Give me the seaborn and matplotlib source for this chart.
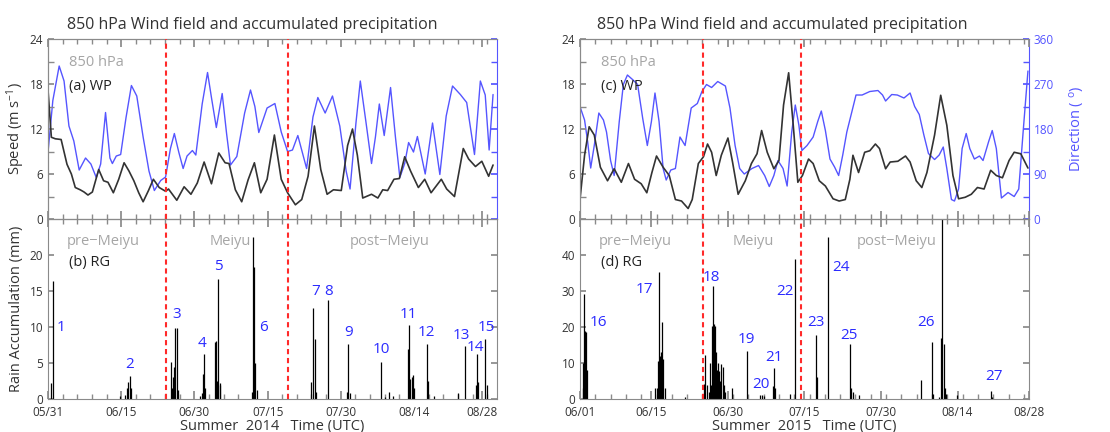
import matplotlib
matplotlib.use("Agg")
import matplotlib.pyplot as plt
import seaborn as sns
import pandas as pd
from matplotlib.ticker import MultipleLocator, FixedLocator

# ---------------- 2014 (days after 05/31 00 UTC) ----------------
wp14_day = [0.0, 0.7, 1.5, 2.7, 3.9, 4.8, 5.6, 6.6, 7.4, 8.2, 9.1, 10.4, 11.4, 12.3, 13.4, 14.5,
            15.6, 16.6, 17.6, 18.6, 19.5, 20.6, 21.6, 22.8, 24.1, 24.7, 26.4, 27.9, 29.3, 30.6,
            32.0, 33.5, 35.0, 36.3, 37.1, 38.4, 39.7, 41.0, 42.3, 43.6, 44.9, 46.4, 47.8, 49.1,
            50.7, 52.0, 53.3, 54.6, 55.9, 57.2, 58.5, 60.1, 61.4, 62.4, 63.4, 64.5, 66.3, 67.6,
            68.6, 69.6, 70.9, 72.0, 73.1, 74.3, 75.9, 77.2, 78.5, 80.6, 81.7, 83.3, 85.1, 86.2,
            87.6, 88.9, 90.3, 91.2]
wp14_speed = [17.3, 10.9, 10.7, 10.6, 7.3, 6.0, 4.2, 3.9, 3.6, 3.2, 3.6, 6.6, 5.1, 4.9, 3.5, 5.3,
              7.5, 6.4, 5.1, 3.5, 2.3, 3.8, 5.3, 4.2, 3.7, 4.0, 2.5, 4.3, 3.3, 4.8,
              7.6, 4.7, 8.8, 7.5, 7.4, 3.9, 2.3, 5.2, 7.5, 3.5, 5.3, 11.2, 5.3, 3.5,
              1.9, 2.6, 5.7, 12.4, 6.6, 3.3, 3.9, 3.8, 9.8, 12.0, 8.5, 2.8, 3.3, 2.8,
              3.9, 3.8, 5.3, 5.4, 8.3, 6.4, 4.2, 5.3, 3.5, 5.3, 4.0, 3.0, 9.4, 8.0,
              7.0, 7.7, 5.7, 7.2]
wd14_day = [0.0, 1.0, 2.3, 3.3, 4.3, 5.3, 6.4, 7.7, 8.8, 9.9, 10.8, 11.8, 12.7, 13.2, 14.0, 14.9,
            16.0, 17.1, 18.2, 19.5, 20.7, 21.8, 23.1, 24.1, 25.1, 25.9, 26.8, 27.7, 28.5, 29.6,
            30.3, 31.6, 32.7, 33.5, 34.5, 35.7, 36.6, 37.4, 38.7, 40.3, 41.5, 42.4, 43.2, 44.9,
            46.5, 47.8, 49.1, 50.1, 51.2, 53.0, 54.3, 55.3, 56.8, 58.3, 59.8, 61.1, 61.9, 63.1,
            64.0, 65.2, 66.3, 67.1, 67.9, 68.9, 70.2, 71.2, 72.1, 73.1, 73.9, 74.9, 75.7, 77.3,
            78.8, 80.3, 81.6, 82.9, 84.5, 85.8, 86.4, 87.4, 88.6, 89.6, 90.4, 91.2]
wd14_dir = [132, 237, 306, 276, 186, 156, 98, 122, 110, 83, 110, 213, 122, 111, 126, 129,
            203, 267, 246, 164, 96, 57, 77, 84, 141, 171, 134, 101, 126, 137,
            128, 230, 293, 243, 183, 251, 171, 108, 125, 212, 258, 225, 173, 222,
            231, 174, 135, 138, 167, 101, 204, 243, 212, 246, 186, 96, 60, 191,
            276, 191, 111, 164, 230, 167, 263, 164, 83, 111, 153, 134, 165, 90,
            192, 89, 206, 266, 249, 233, 194, 129, 276, 248, 138, 249]
rg14_day = [0.7, 1.0, 14.8, 15.7, 16.1, 16.4, 16.8, 17.0, 25.2, 25.5, 25.7, 25.9, 26.1, 26.4, 26.6,
            31.1, 31.5, 31.7, 31.9, 32.1, 34.3, 34.5, 34.7, 34.9, 35.2, 35.3,
            41.9, 42.1, 42.3, 42.5, 42.8, 54.0, 54.4, 54.7, 54.9, 57.3, 61.2, 61.4, 61.9,
            68.3, 69.1, 69.8, 70.8, 73.7, 73.9, 74.1, 74.5, 74.8, 75.0, 77.6, 77.8, 79.0,
            84.1, 85.4, 87.8, 87.9, 88.1, 89.6, 90.0]
rg14_mm = [2.2, 16.4, 0.4, 0.5, 1.5, 2.4, 3.2, 1.5, 5.2, 1.5, 3.0, 4.5, 9.8, 9.8, 1.2,
           0.4, 0.8, 3.5, 6.2, 1.5, 7.9, 8.0, 2.5, 16.6, 2.2, 2.0,
           1.0, 22.5, 18.4, 5.0, 1.2, 2.4, 12.7, 8.3, 1.0, 13.7, 1.0, 7.6, 0.8,
           5.2, 0.3, 1.0, 0.4, 7.0, 10.3, 2.8, 3.0, 3.3, 1.5, 7.6, 2.5, 0.4,
           0.8, 7.3, 2.0, 6.2, 2.3, 8.3, 2.0]
meiyu14 = [24.1, 49.1]
ticks14 = [0, 15, 30, 45, 60, 75, 89]
labels14 = ["05/31", "06/15", "06/30", "07/15", "07/30", "08/14", "08/28"]

# ---------------- 2015 (days after 06/01 00 UTC) ----------------
wp15_day = [0, 0.9, 1.8, 2.8, 4.0, 5.4, 6.7, 8.1, 9.5, 10.7, 12.0, 13.1, 14.1, 15.0, 16.3, 17.5,
            18.7, 19.9, 21.2, 22.0, 23.2, 24.2, 25.0, 25.8, 26.7, 27.7, 29.0, 29.9, 31.0, 32.4,
            33.6, 34.7, 35.6, 36.7, 38.0, 39.0, 39.9, 40.9, 41.8, 42.7, 43.6, 44.8, 45.7, 46.9,
            48.1, 49.6, 50.8, 52.0, 52.9, 53.5, 54.6, 55.8, 56.8, 57.9, 58.7, 59.9, 60.8, 62.3,
            63.8, 64.7, 65.9, 67.0, 68.0, 69.5, 70.7, 71.9, 73.1, 74.2, 75.5, 76.7, 77.9, 79.2,
            80.5, 81.6, 82.8, 84.1, 85.1, 86.4, 87.8]
wp15_speed = [2.6, 8.5, 12.3, 11.2, 6.9, 5.1, 6.7, 4.9, 7.4, 5.3, 4.7, 3.5, 6.2, 8.4, 6.9, 5.8,
              2.6, 2.4, 1.4, 2.6, 7.4, 8.3, 10.0, 8.9, 5.8, 8.5, 10.8, 7.6, 3.3, 5.1,
              7.4, 8.7, 11.8, 8.9, 6.7, 7.8, 15.2, 19.5, 12.5, 4.9, 5.8, 8.0, 7.4, 5.1,
              4.4, 2.7, 2.4, 2.6, 5.3, 8.5, 6.2, 8.9, 9.1, 10.0, 9.4, 6.7, 7.6, 7.7,
              8.4, 7.6, 5.1, 4.2, 6.2, 11.2, 16.5, 12.5, 5.8, 2.7, 2.9, 3.3, 4.2, 4.0,
              6.5, 5.8, 5.5, 7.8, 8.9, 8.7, 6.8]
wd15_day = [0, 0.9, 1.5, 2.1, 2.8, 3.7, 4.6, 5.2, 6.0, 6.7, 7.7, 8.5, 9.3, 10.3, 11.3, 12.3,
            13.2, 14.0, 14.7, 15.5, 16.3, 16.9, 17.8, 18.7, 19.6, 20.6, 21.8, 23.0, 23.9, 24.8,
            25.8, 27.0, 28.5, 29.4, 30.4, 31.3, 32.2, 33.7, 35.0, 36.2, 37.1, 38.0, 38.8, 39.8,
            40.6, 41.5, 42.2, 42.9, 43.5, 44.5, 45.7, 46.6, 47.3, 48.1, 49.0, 49.9, 50.7, 51.5,
            52.3, 53.3, 54.1, 55.3, 56.8, 58.4, 59.3, 59.9, 61.1, 62.2, 63.5, 64.7, 65.6, 66.5,
            67.4, 68.3, 69.5, 70.4, 71.2, 71.9, 72.8, 73.4, 74.2, 74.9, 75.7, 76.4, 77.3, 78.3,
            79.0, 80.1, 80.8, 81.6, 82.6, 83.9, 85.1, 86.0, 86.9, 87.8]
wd15_dir = [225, 198, 155, 102, 147, 212, 198, 174, 117, 87, 195, 269, 288, 279, 269, 201,
            147, 195, 252, 195, 101, 78, 98, 101, 164, 147, 222, 231, 255, 269,
            263, 275, 266, 222, 147, 101, 90, 101, 107, 87, 65, 87, 117, 101,
            66, 174, 228, 188, 137, 147, 164, 195, 216, 177, 120, 104, 87, 128,
            174, 215, 248, 248, 255, 257, 248, 236, 249, 248, 242, 252, 225, 209,
            168, 131, 119, 128, 144, 101, 39, 36, 60, 141, 171, 141, 120, 126,
            117, 155, 177, 141, 42, 53, 45, 60, 180, 296]
rg15_day = [0.5, 0.65, 0.85, 1.05, 1.2, 1.45, 14.8, 15.0, 15.2, 15.5, 15.7, 15.9, 16.0, 16.2, 16.6,
            20.6, 24.3, 24.6, 24.9, 25.2, 25.4, 25.6, 25.8, 26.0, 26.2, 26.4, 26.6, 26.8, 27.0,
            27.2, 27.5, 27.7, 28.0, 28.3, 28.5, 29.8, 32.8, 35.3, 35.7, 36.0, 37.8, 38.0, 38.2,
            41.1, 42.1, 46.3, 46.5, 48.7, 52.9, 53.2, 53.5, 54.6, 66.9, 68.9, 69.1, 70.3,
            70.7, 71.0, 71.3, 71.5, 71.8, 73.8, 80.5, 80.8]
rg15_mm = [3.0, 10.0, 29.3, 19.0, 18.5, 8.0, 3.0, 3.0, 10.5, 35.3, 12.0, 13.0, 21.5, 11.0, 3.0,
           0.5, 4.3, 12.3, 4.0, 2.0, 10.0, 4.0, 20.4, 31.3, 20.7, 20.3, 13.0, 8.0, 10.0,
           7.8, 5.0, 9.8, 9.0, 4.0, 2.0, 3.0, 13.2, 1.0, 1.2, 0.8, 3.5, 8.5, 3.0,
           1.5, 38.9, 17.8, 6.0, 45.0, 15.2, 3.0, 2.0, 1.0, 5.3, 15.9, 1.5, 0.5,
           17.0, 50.0, 15.2, 3.0, 1.5, 1.0, 2.3, 0.5]
meiyu15 = [24.2, 43.4]
ticks15 = [0, 14, 29, 44, 59, 74, 88]
labels15 = ["06/01", "06/15", "06/30", "07/15", "07/30", "08/14", "08/28"]

# rain event numbers and where their labels sit (day, mm)
ev14_num = list(range(1, 16))
ev14_pos = [(2.7, 9.9), (16.8, 4.8), (26.3, 11.7), (31.6, 7.7), (34.9, 18.4), (44.1, 9.9),
            (54.9, 14.9), (57.6, 14.9), (61.6, 9.3), (68.4, 6.9), (73.9, 11.7), (77.6, 9.3),
            (84.8, 8.8), (87.6, 7.1), (89.8, 9.9)]
ev15_num = list(range(16, 28))
ev15_pos = [(3.6, 21.2), (12.6, 30.3), (25.8, 33.8), (32.7, 16.4), (35.5, 4.1), (38.1, 11.6),
            (40.1, 29.8), (46.3, 21.2), (51.2, 36.4), (52.8, 17.7), (67.9, 21.2), (81.1, 6.3)]

BLACK = "#333333"
BLUE = "#5555ff"
TXTBLUE = "#2b2bff"
GRAY = "#a6a6a6"
RED = "#ff2a2a"
SPINE = "#8a8a8a"

sns.set_theme(style="white")
plt.rcParams["font.family"] = ["Open Sans", "DejaVu Sans"]
plt.rcParams["mathtext.fontset"] = "custom"
plt.rcParams["mathtext.rm"] = "Open Sans"
plt.rcParams["mathtext.it"] = "Open Sans"

fig = plt.figure(figsize=(11.1, 4.32), dpi=100)


def style_x(ax, xmax, ticks, labels, show_labels):
    ax.set_xlim(0, xmax)
    ax.xaxis.set_major_locator(FixedLocator(ticks))
    ax.xaxis.set_minor_locator(MultipleLocator(3))
    ax.set_xticklabels(labels if show_labels else [])
    ax.tick_params(axis="x", which="both", direction="in", top=True, bottom=True,
                   color=SPINE, labelsize=8.5, labelcolor="#333333", pad=5)
    ax.tick_params(axis="x", which="major", length=6)
    ax.tick_params(axis="x", which="minor", length=3.5)


def draw_year(x0, wp_day, wp_speed, wd_day, wd_dir, rg_day, rg_mm, meiyu, xmax, ticks,
              labels, rmax, rticks, letters, ev_num, ev_pos, sections, year, first, title_x):
    ax_t = fig.add_axes([x0, 0.493, 0.4045, 0.4167])
    ax_b = fig.add_axes([x0, 0.0764, 0.4045, 0.4167])
    ax_d = ax_t.twinx()

    # wind speed (black) and direction (blue)
    sns.lineplot(x=wd_day, y=wd_dir, ax=ax_d, color=BLUE, lw=1.0)
    sns.lineplot(x=wp_day, y=wp_speed, ax=ax_t, color=BLACK, lw=1.2)
    ax_t.set_zorder(ax_d.get_zorder() + 1)
    ax_t.patch.set_visible(False)

    ax_t.set_ylim(0, 24)
    ax_t.yaxis.set_major_locator(MultipleLocator(6))
    ax_t.yaxis.set_minor_locator(MultipleLocator(3))
    ax_t.tick_params(axis="y", which="both", direction="in", left=True, right=False,
                     color=SPINE, labelsize=8.5, labelcolor="#333333", length=4)
    ax_d.set_ylim(0, 360)
    ax_d.yaxis.set_major_locator(MultipleLocator(90))
    ax_d.yaxis.set_minor_locator(MultipleLocator(45))
    ax_d.tick_params(axis="y", which="both", direction="in", color=BLUE, labelcolor=BLUE,
                     labelsize=8.5, length=4, labelright=not first)
    for ax in (ax_t, ax_d):
        style_x(ax, xmax, ticks, labels, False)
        for s in ax.spines.values():
            s.set_color(SPINE)
            s.set_linewidth(0.8)
    ax_d.spines["right"].set_color(BLUE)
    ax_t.spines["right"].set_visible(False)
    ax_t.set_xlabel("")
    ax_d.set_xlabel("")
    ax_d.set_ylabel("")

    # rain gauge accumulation
    ax_b.vlines(rg_day, 0, rg_mm, color="black", lw=0.9)
    ax_b.set_ylim(0, rmax)
    ax_b.yaxis.set_major_locator(FixedLocator(rticks))
    style_x(ax_b, xmax, ticks, labels, True)
    ax_b.tick_params(axis="y", which="both", direction="in", left=True, right=True,
                     color=SPINE, labelsize=8.5, labelcolor="#333333", length=4)
    for s in ax_b.spines.values():
        s.set_color(SPINE)
        s.set_linewidth(0.8)
    ax_b.set_xlabel(f"Summer  {year}   Time (UTC)", fontsize=10.5, color="#333333", labelpad=0)

    for ax in (ax_t, ax_b):
        for d in meiyu:
            ax.axvline(d, color=RED, lw=1.5, ls=(0, (2.5, 1.8)), zorder=5)

    ax_t.text(0.047, 0.87, "850 hPa", transform=ax_t.transAxes, color=GRAY, fontsize=10.5,
              va="center")
    ax_t.text(0.047, 0.737, f"({letters[0]}) WP", transform=ax_t.transAxes, color="#222222",
              fontsize=10.5, va="center")
    ax_b.text(0.047, 0.757, f"({letters[1]}) RG", transform=ax_b.transAxes, color="#222222",
              fontsize=10.5, va="center")
    for name, xc in sections:
        ax_b.text(xc, 0.874, name, transform=ax_b.get_xaxis_transform(), color=GRAY,
                  fontsize=10.5, ha="center", va="center")
    for n, (ex, ey) in zip(ev_num, ev_pos):
        ax_b.text(ex, ey, str(n), color=TXTBLUE, fontsize=11, ha="center", va="center")

    if first:
        ax_t.set_ylabel("Speed (m s$^{-1}$)", fontsize=10.5, color="#333333", labelpad=2)
        ax_b.set_ylabel("Rain Accumulation (mm)", fontsize=10.5, color="#333333", labelpad=4)
    else:
        ax_d.set_ylabel("Direction ( $^{o}$)", fontsize=10.5, color=BLUE, labelpad=10)
    fig.text(title_x, 0.943, "850 hPa Wind field and accumulated precipitation",
             fontsize=11.5, color="#333333", ha="center", va="center")


draw_year(0.0432, wp14_day, wp14_speed, wd14_day, wd14_dir, rg14_day, rg14_mm, meiyu14, 92,
          ticks14, labels14, 25, [0, 5, 10, 15, 20], ("a", "b"), ev14_num, ev14_pos,
          [("pre\u2212Meiyu", 11.3), ("Meiyu", 37.3), ("post\u2212Meiyu", 70.1)], 2014, True,
          0.227)
draw_year(0.5225, wp15_day, wp15_speed, wd15_day, wd15_dir, rg15_day, rg15_mm, meiyu15, 88,
          ticks15, labels15, 50, [0, 10, 20, 30, 40], ("c", "d"), ev15_num, ev15_pos,
          [("pre\u2212Meiyu", 10.8), ("Meiyu", 34.0), ("post\u2212Meiyu", 62.0)], 2015, False,
          0.705)

fig.savefig("out.png", dpi=100)
